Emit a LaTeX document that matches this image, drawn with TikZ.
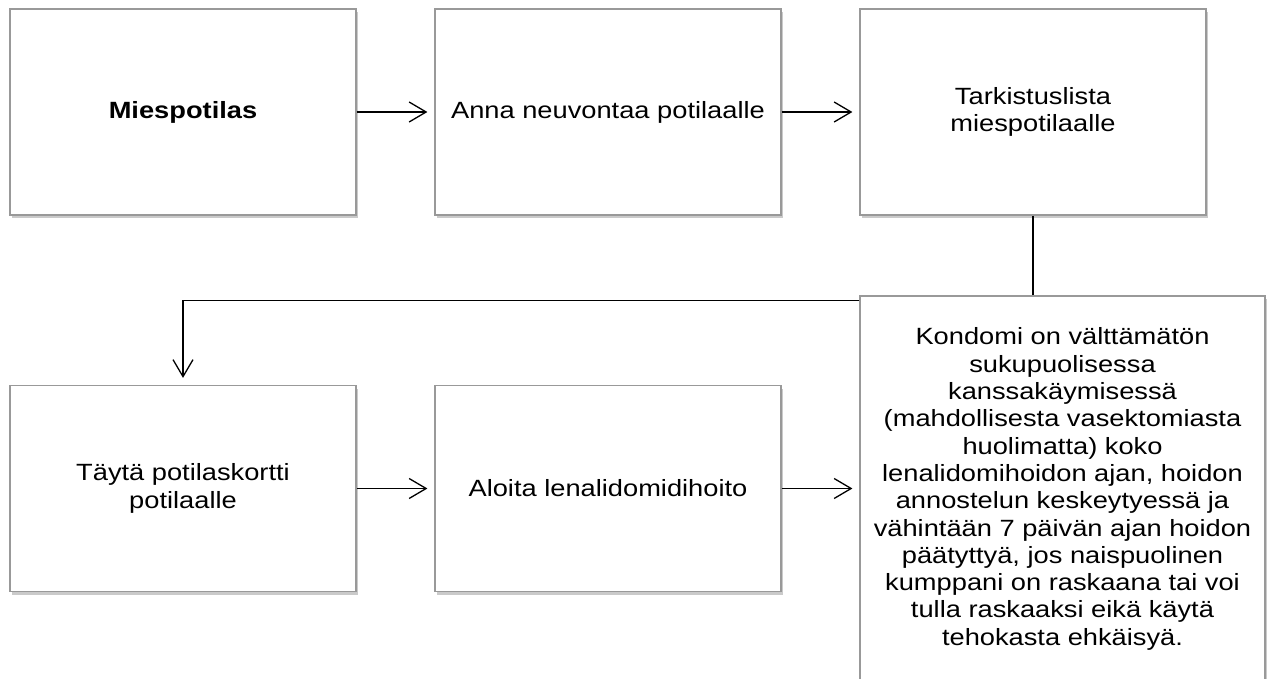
\documentclass[tikz,border=0pt]{standalone}
\usepackage{fontspec}
\setmainfont{Liberation Sans}[FakeStretch=1.16]
\usetikzlibrary{arrows.meta,shadows}

\tikzset{
  box/.style={draw=black!40, line width=1.2pt, fill=white, align=center,
    inner sep=0pt, minimum width=346pt, minimum height=206pt,
    font=\fontsize{23.5}{27.3}\selectfont,
    drop shadow={shadow xshift=2pt, shadow yshift=-3pt, opacity=0.35, fill=black!60}},
  link/.style={line width=1.4pt, black},
  arr/.style={link, -{Straight Barb[length=17pt,width=20pt,line width=1.3pt]}, shorten >=7pt},
}

\begin{document}
\begin{tikzpicture}[x=1pt,y=-1pt]
  \useasboundingbox (0,0) rectangle (1270,679);

  % top row
  \node[box] (patient)   at (183,112)  {\textbf{Miespotilas}};
  \node[box] (advice)    at (608,112)  {Anna neuvontaa potilaalle};
  \node[box] (checklist) at (1033,112) {Tarkistuslista\\miespotilaalle};

  % bottom row
  \node[box] (card)  at (183,488.5) {Täytä potilaskortti\\potilaalle};
  \node[box] (start) at (608,488.5) {Aloita lenalidomidihoito};
  \node[box, minimum width=405pt, minimum height=386pt] (condom) at (1062.5,489)
    {Kondomi on välttämätön\\sukupuolisessa\\kanssakäymisessä\\(mahdollisesta vasektomiasta\\huolimatta) koko\\lenalidomihoidon ajan, hoidon\\annostelun keskeytyessä ja\\vähintään 7 päivän ajan hoidon\\päätyttyä, jos naispuolinen\\kumppani on raskaana tai voi\\tulla raskaaksi eikä käytä\\tehokasta ehkäisyä.};

  \coordinate (split) at ([yshift=-5pt]condom.north west);

  \draw[arr] (patient) -- (advice);
  \draw[arr] (advice) -- (checklist);
  \draw[link] (checklist.south) -- (checklist.south |- condom.north);
  \draw[arr] (split) -| (card);
  \draw[arr] (card) -- (start);
  \draw[arr] (start.east) -- (start.east -| condom.west);
\end{tikzpicture}
\end{document}
